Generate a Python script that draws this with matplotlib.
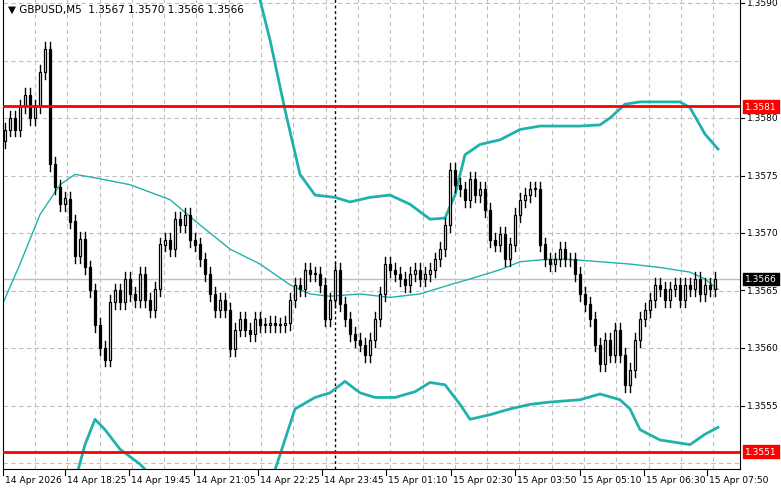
import numpy as np
import matplotlib
matplotlib.use("Agg")
import matplotlib.pyplot as plt
from matplotlib.patches import Rectangle

BASE = 1.3550  # price = BASE + pips*0.0001
closes_pips = [29,30,29,31,32,30,31,34,36,
    26,24,22.5,23,21,18,19.5,17,15,12,10,9,14,15,14,16,
    14.7,14.2,16.4,14.2,13.3,15.1,19,19.4,18.6,21.2,20.7,21.6,19.4,19,17.7,16.4,14.7,13.3,14.2,13.3,9.9,11.6,12.5,11.6,11.2,
    12.5,12,12,12.2,12,12,12.2,14.2,15.5,15.1,16.8,16.4,16.4,15.5,12.5,14.2,16.8,13.8,12.5,11.2,10.7,10.3,9.4,10.7,12.5,
    14.7,17.3,16.8,16.4,16,15.5,16.4,16.8,16,16.4,16.8,17.7,18.6,20.7,25.5,24.2,23.8,22.9,24.7,23.3,23.8,22,19.4,19,19.9,17.7,
    19,21.6,22.9,23.3,23.8,23.8,19,17.7,17.3,17.7,18.6,17.7,17.7,16.4,14.7,13.8,12.5,10.3,8.6,10.7,9.4,11.6,9.4,6.8,8.1,
    10.7,12.5,13.3,14.2,15.5,15.1,14.2,15.1,15.5,14.2,15.5,15.1,16,14.7,15.5,15.1,16]
first_open_pips = 28

up_px = [0,100,200,245,255,270,285,300,315,335,350,370,390,410,430,445,455,465,480,500,520,540,560,580,600,610,625,640,680,690,705,718]
up_pips = [50,50,50,43.8,42,36.8,30.7,25.1,23.3,23.1,22.7,23.1,23.3,22.5,21.2,21.3,23.3,26.8,27.7,28.1,29,29.3,29.3,29.3,29.4,30,31.2,31.4,31.4,30.9,28.6,27.3]
mid_px = [0,20,40,60,75,95,130,170,200,230,260,290,310,330,360,390,420,450,470,500,520,545,570,600,630,660,690,705,718]
mid_pips = [13.3,17.3,21.6,24.2,25.1,24.8,24.2,22.9,20.7,18.6,17.3,15.5,14.7,14.5,14.7,14.4,14.7,15.5,16,16.8,17.5,17.7,17.7,17.5,17.3,17,16.6,16,15.1]
lo_px = [70,85,95,105,120,140,160,200,240,265,280,295,315,330,345,360,375,395,415,430,445,460,470,490,510,530,550,580,600,620,630,640,660,690,705,718]
lo_pips = [-3.2,1.6,3.8,2.9,1.2,-0.1,-1.9,-6,-6,-3.2,0.7,4.7,5.7,6.1,7.1,6.1,5.7,5.7,6.2,7,6.8,5.1,3.8,4.2,4.7,5.1,5.3,5.5,6,5.5,4.7,2.9,2,1.6,2.5,3.1]

time_px = [3,65,129,194,258,322,386,451,515,580,644,707]
time_labels = ["14 Apr 2026","14 Apr 18:25","14 Apr 19:45","14 Apr 21:05","14 Apr 22:25","14 Apr 23:45",
               "15 Apr 01:10","15 Apr 02:30","15 Apr 03:50","15 Apr 05:10","15 Apr 06:30","15 Apr 07:50"]
price_ticks = [1.3590,1.3580,1.3575,1.3570,1.3565,1.3560,1.3555]
red_levels = [1.3581,1.3551]
bid = 1.3566

W, H = 781, 489
fig = plt.figure(figsize=(W/100, H/100), dpi=100)
ax = fig.add_axes([3/W, 19/H, 737/W, 470/H])
ymin = 1.3590 - 466/11.5*1e-4
ymax = 1.3590 + 4/11.5*1e-4
ax.set_xlim(3, 740)
ax.set_ylim(ymin, ymax)

closes = BASE + np.array(closes_pips)*1e-4
opens = np.concatenate([[BASE+first_open_pips*1e-4], closes[:-1]])
xs = 3 + 5*np.arange(len(closes)) + 2
for x, o, c in zip(xs, opens, closes):
    hi = max(o, c) + 0.6e-4; lo = min(o, c) - 0.6e-4
    ax.plot([x, x], [lo, hi], color='black', lw=1, zorder=3)
    bottom = min(o, c); h = max(abs(c-o), 0.08e-4)
    ax.add_patch(Rectangle((x-1.4, bottom), 2.8, h, facecolor='black' if c < o else 'white',
                           edgecolor='black', lw=0.9, zorder=4))

teal = '#20b2aa'
ax.plot(up_px, BASE+np.array(up_pips)*1e-4, color=teal, lw=2, zorder=2)
ax.plot(lo_px, BASE+np.array(lo_pips)*1e-4, color=teal, lw=2, zorder=2)
ax.plot(mid_px, BASE+np.array(mid_pips)*1e-4, color=teal, lw=1, zorder=2)

for p in np.arange(1.3550, 1.3591, 0.0005):
    ax.axhline(p, color='#c0c0c0', ls=(0, (4, 3)), lw=0.8, zorder=0)
for gx in np.arange(35, 740, 32.3):
    ax.axvline(gx, color='#c0c0c0', ls=(0, (4, 3)), lw=0.8, zorder=0)
ax.axhline(bid, color='#c0c0c0', lw=1, zorder=1)
for r in red_levels:
    ax.axhline(r, color='red', lw=2, zorder=5)
ax.axvline(335, color='black', ls=(0, (2, 2)), lw=1, zorder=1)

ax.set_xticks([]); ax.set_yticks([])
ax.spines['top'].set_visible(False)

trans = ax.get_yaxis_transform()
for p in price_ticks:
    ax.plot([1, 1.006], [p, p], transform=trans, color='black', lw=0.8, clip_on=False)
    ax.text(1.009, p, f"{p:.4f}", transform=trans, va='center', ha='left', fontsize=6.6, clip_on=False)
for p, fc in [(1.3581, 'red'), (bid, 'black'), (1.3551, 'red')]:
    ax.text(1.007, p, f"{p:.4f}", transform=trans, va='center', ha='left', fontsize=6.6, color='white',
            bbox=dict(boxstyle='square,pad=0.2', fc=fc, ec=fc), clip_on=False, zorder=10)

xt = ax.get_xaxis_transform()
for px, lab in zip(time_px, time_labels):
    ax.plot([px, px], [0, -0.012], transform=xt, color='black', lw=0.8, clip_on=False)
    ax.text(px+2, -0.012, lab, transform=xt, ha='left', va='top', fontsize=6.6, clip_on=False)

fig.text(8/W, 1-10/H, "▼ GBPUSD,M5  1.3567 1.3570 1.3566 1.3566", fontsize=7.5, va='center', ha='left')
fig.savefig("out.png", dpi=100, facecolor='white')
